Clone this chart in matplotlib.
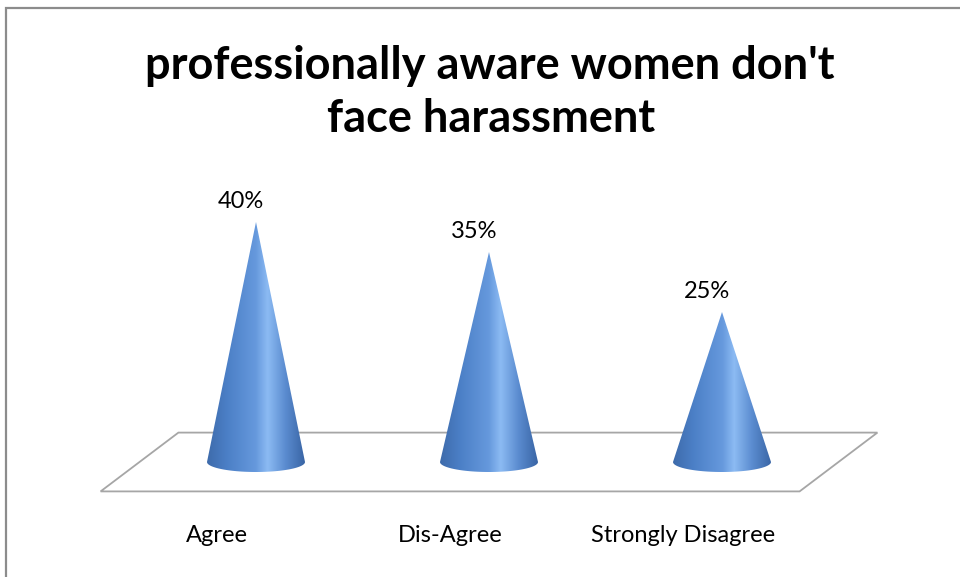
import numpy as np
import matplotlib
matplotlib.use("Agg")
import matplotlib.pyplot as plt
from matplotlib.colors import LinearSegmentedColormap
from matplotlib.patches import Polygon, Rectangle

categories = ["Agree", "Dis-Agree", "Strongly Disagree"]
values = [40, 35, 25]
value_labels = ["40%", "35%", "25%"]
title_lines = ["professionally aware women don't", "face harassment"]

W, H = 960, 577
fig = plt.figure(figsize=(W / 100, H / 100), dpi=100)
fig.patch.set_facecolor("white")

# one invisible axes over the whole figure; x = category slot, y = percent
px_per_cat = 233.0
px_per_pct = 6.0
x0_px, y0_px = 256.0, 462.0
ax = fig.add_axes([0, 0, 1, 1])
ax.axis("off")

# chart frame
fig.patches.append(Rectangle((6 / W, -0.05), 1.1, 1 - 8 / H + 0.05,
                             transform=fig.transFigure, fill=False,
                             edgecolor="#8c8c8c", linewidth=1.6))

# 3-D floor as a skewed parallelogram
n = len(categories)
depth_x = 0.167
depth_y = 4.9
floor = Polygon([(-0.5 - depth_x, -depth_y), (n - 0.5 - depth_x, -depth_y),
                 (n - 0.5 + depth_x, depth_y), (-0.5 + depth_x, depth_y)],
                closed=True, facecolor="white", edgecolor="#a6a6a6",
                linewidth=1.3, zorder=1)
ax.add_patch(floor)

cone_cmap = LinearSegmentedColormap.from_list(
    "cone", [(0.0, "#3e6bab"), (0.2, "#4b7fc6"), (0.5, "#6699dd"),
             (0.62, "#8cbbf3"), (0.8, "#5b8cd0"), (1.0, "#3965a5")])
grad = np.linspace(0, 1, 256).reshape(1, -1)

r = 49 / px_per_cat
b = 10 / px_per_pct
theta = np.linspace(0, -np.pi, 60)
label_font = dict(fontsize=17, family="Lato", color="black")
for i, v in enumerate(values):
    pts = [(i, v)]
    pts += [(i + r * np.cos(t), b * np.sin(t)) for t in theta]
    pts.append((i, v))
    outline = Polygon(pts, closed=True, facecolor="none", edgecolor="none")
    ax.add_patch(outline)
    im = ax.imshow(grad, cmap=cone_cmap, aspect="auto", origin="lower",
                   extent=[i - r, i + r, -b, v], zorder=3,
                   interpolation="bilinear")
    im.set_clip_path(outline)
    ax.annotate(value_labels[i], (i, v), xytext=(-11, 15),
                textcoords="offset points", ha="center", va="center",
                zorder=4, **label_font)
    ax.text(i - depth_x, (535 - y0_px) / -px_per_pct, categories[i],
            ha="center", va="center", **label_font)

ax.set_xlim(-x0_px / px_per_cat, (W - x0_px) / px_per_cat)
ax.set_ylim((y0_px - H) / px_per_pct, y0_px / px_per_pct)

fig.text(490 / W, 1 - 66 / H, title_lines[0], ha="center", va="center",
         fontsize=32.5, fontweight="bold", family="Lato")
fig.text(491 / W, 1 - 119 / H, title_lines[1], ha="center", va="center",
         fontsize=32.5, fontweight="bold", family="Lato")

fig.savefig("out.png", dpi=100, facecolor="white")
